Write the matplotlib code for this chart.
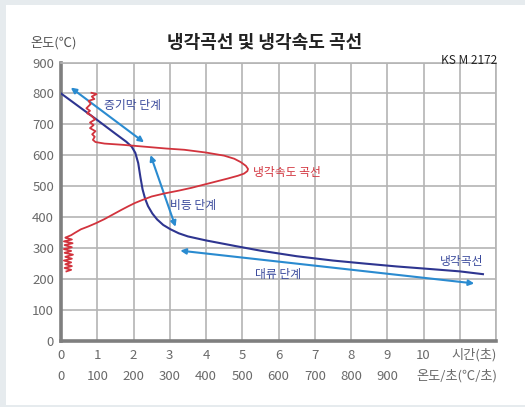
import matplotlib
matplotlib.use("Agg")
import matplotlib.pyplot as plt
from matplotlib.patches import Rectangle
import numpy as np

plt.rcParams['font.family'] = ['Noto Sans CJK KR', 'DejaVu Sans']

# ---- data ----
# cooling curve: time (s) vs temperature (C)
cool_time = [0, 0.5, 1.0, 1.5, 1.8, 1.95, 2.05, 2.13, 2.19, 2.25, 2.32, 2.4, 2.52, 2.65,
             2.82, 3.02, 3.25, 3.5, 4.0, 4.85, 5.5, 6.5, 7.5, 8.4, 9.25, 10.25, 11.0, 11.64]
cool_temp = [800, 757, 714, 670, 644, 628, 608, 575, 530, 490, 460, 436, 412, 393,
             375, 361, 348, 338, 325, 306, 292, 274, 260, 250, 241, 232, 225, 216]

# cooling-rate curve: rate (C/s) vs temperature (C)
rate_val = [84, 98, 85, 92, 76, 82, 70, 80, 72, 84, 94, 80, 90, 80, 95, 86, 93, 88, 95,
            120, 170, 210, 290, 340, 400, 450, 478, 496, 510, 516, 514, 505, 488, 460, 410, 360, 325,
            286, 250, 225, 204, 185, 167, 145, 120, 95, 75, 55, 39, 28, 18, 12,
            30, 8, 32, 10, 30, 8, 28, 10, 33, 12, 30, 8, 28, 12, 30, 10, 28, 15]
rate_temp = [802, 798, 790, 782, 776, 766, 752, 744, 736, 728, 716, 706, 698, 688, 678, 668, 660, 650, 643,
             638, 634, 630, 622, 618, 609, 599, 589, 578, 566, 556, 549, 541, 534, 525, 510, 495, 486,
             477, 467, 456, 446, 435, 424, 410, 394, 380, 370, 361, 350, 342, 337, 334,
             328, 322, 316, 310, 303, 297, 291, 285, 279, 272, 266, 260, 254, 248, 242, 236, 230, 225]

# stage arrows (time, temp) pairs
arrows = [((0.27, 819), (2.29, 642)),
          ((2.47, 601), (3.16, 369)),
          ((3.29, 292), (11.4, 186))]

# labels
labels = [("증기막 단계", 1.96, 762, 'blue'),
          ("비등 단계", 3.64, 439, 'blue'),
          ("냉각속도 곡선", 6.22, 546, 'red'),
          ("대류 단계", 5.98, 216, 'blue'),
          ("냉각곡선", 11.05, 258, 'blue')]

time_ticks = list(range(0, 11))
rate_ticks = list(range(0, 1000, 100))
temp_ticks = list(range(0, 1000, 100))

# ---- figure ----
W, H = 525, 407
fig = plt.figure(figsize=(W / 100, H / 100), dpi=100)
fig.patch.set_facecolor('#e6ebee')
fig.patches.append(Rectangle((6 / W, 2 / H), 1, (H - 7) / H, transform=fig.transFigure,
                             facecolor='white', edgecolor='none', zorder=-10))

left, right, top, bottom = 61, 496, 62.5, 341
ax = fig.add_axes([left / W, 1 - bottom / H, (right - left) / W, (bottom - top) / H])
ax.set_facecolor('white')
ax.set_xlim(0, 12)
ax.set_ylim(0, 900)

grid_c = '#b4b4b4'
ax.set_xticks(range(0, 13))
ax.set_yticks(temp_ticks)
ax.grid(True, color=grid_c, lw=1.2)
ax.set_axisbelow(True)
for s in ['top', 'right']:
    ax.spines[s].set_color(grid_c)
    ax.spines[s].set_linewidth(1.2)
for s in ['left', 'bottom']:
    ax.spines[s].set_color('#7f7f7f')
    ax.spines[s].set_linewidth(2.6)

tick_c = '#6a6a6a'
ax.tick_params(axis='y', length=0, pad=5, labelsize=9.5, labelcolor=tick_c)
ax.set_yticklabels([str(v) for v in temp_ticks])
ax.tick_params(axis='x', length=0, pad=6, labelsize=9.5, labelcolor=tick_c)
ax.set_xticklabels([str(v) for v in time_ticks] + ['', ''])
ax.set_xticks([6], minor=True)
ax.tick_params(axis='x', which='minor', length=3, width=1, color='#9a9a9a')

# secondary x-axis for cooling rate
ax2 = ax.twiny()
ax2.set_xlim(0, 1200)
ax2.xaxis.set_ticks_position('bottom')
ax2.spines['bottom'].set_position(('outward', 15))
for s in ax2.spines.values():
    s.set_visible(False)
ax2.set_xticks(rate_ticks)
ax2.set_xticklabels([str(v) for v in rate_ticks])
ax2.tick_params(axis='x', length=0, pad=6, labelsize=9.5, labelcolor=tick_c)
ax2.set_ylim(0, 900)

# curves
ax.plot(cool_time, cool_temp, color='#2e3590', lw=1.5, zorder=5)
ax2.plot(rate_val, rate_temp, color='#d2333d', lw=1.3, zorder=5)

arrow_c = '#2a8bd0'
for (p0, p1) in arrows:
    ax.annotate('', xy=p1, xytext=p0,
                arrowprops=dict(arrowstyle='<|-|>', color=arrow_c, lw=1.5,
                                mutation_scale=8, shrinkA=0, shrinkB=0), zorder=6)

col = {'blue': '#3a4a9c', 'red': '#d2333d'}
for txt, x, y, c in labels:
    ax.text(x, y, txt, color=col[c], fontsize=8.5, ha='center', va='center', zorder=7)

# titles and axis captions
fig.text(265 / W, 1 - 43 / H, "냉각곡선 및 냉각속도 곡선", fontsize=13, color='#222222',
         ha='center', va='center', fontweight='bold')
fig.text(30 / W, 1 - 43 / H, "온도(℃)", fontsize=9.5, color='#555555', ha='left', va='center')
fig.text(497 / W, 1 - 60 / H, "KS M 2172", fontsize=8.5, color='#222222', ha='right', va='center')
fig.text(497 / W, 1 - 355 / H, "시간(초)", fontsize=9.5, color=tick_c, ha='right', va='center')
fig.text(497 / W, 1 - 376 / H, "온도/초(℃/초)", fontsize=9.5, color=tick_c, ha='right', va='center')

fig.savefig('out.png', dpi=100, facecolor=fig.get_facecolor())
